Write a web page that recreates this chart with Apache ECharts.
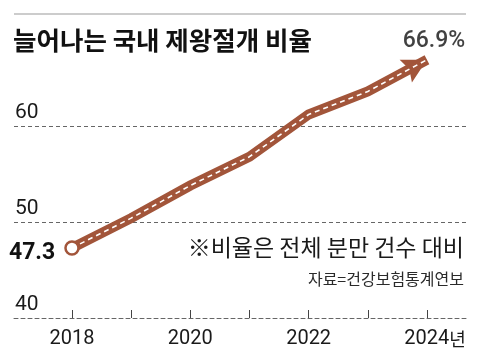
<!DOCTYPE html>
<html><head><meta charset="utf-8">
<script src="https://cdn.jsdelivr.net/npm/echarts@6/dist/echarts.min.js"></script>
<style>html,body{margin:0;padding:0;background:#fff}#c{width:480px;height:361px}</style>
</head><body><div id="c"></div>
<script>
const years = [2018, 2019, 2020, 2021, 2022, 2023, 2024];
const rates = [47.3, 50.4, 53.8, 56.8, 61.2, 63.6, 66.9];
const xLabelYears = [2018, 2020, 2022, 2024];
const yTicks = [40, 50, 60];
const titleText = '늘어나는 국내 제왕절개 비율';
const noteText = '※비율은 전체 분만 건수 대비';
const sourceText = '자료=건강보험통계연보';

const BROWN = '#a2553a';
const NUM = "Roboto, sans-serif";
const KR = "'Noto Sans CJK KR', sans-serif";

const pts = years.map((y, i) => [y, rates[i]]);
const n = pts.length;

const chart = echarts.init(document.getElementById('c'), null, {renderer: 'canvas'});
chart.setOption({
  animation: false,
  backgroundColor: '#fff',
  grid: {left: 14, right: 14, top: 30, bottom: 43},
  xAxis: {
    type: 'value', min: 2017.02, max: 2024.66,
    axisLine: {show: true, lineStyle: {color: '#666', type: [4, 3], width: 1}},
    axisTick: {show: true, inside: true, length: 8, customValues: years, lineStyle: {color: '#444'}},
    splitLine: {show: false},
    axisLabel: {
      customValues: xLabelYears, margin: 11,
      formatter: v => v === 2024 ? '{c|2024}{b|년}' : '{a|' + v + '}',
      rich: {
        a: {fontFamily: NUM, fontSize: 20, color: '#1a1a1a'},
        c: {fontFamily: NUM, fontSize: 20, color: '#1a1a1a', padding: [0, 0, 0, 16]},
        b: {fontFamily: KR, fontSize: 18, color: '#1a1a1a'}
      }
    }
  },
  yAxis: {
    type: 'value', min: 40, max: 70, interval: 10,
    axisLine: {show: false}, axisTick: {show: false},
    splitLine: {show: true, lineStyle: {color: ['#666', '#666', '#666', 'rgba(0,0,0,0)'], type: [4, 3], width: 1}},
    axisLabel: {
      inside: true, margin: 1, verticalAlign: 'bottom', padding: [0, 0, 3, 0],
      fontFamily: NUM, fontSize: 21, color: '#1a1a1a',
      formatter: v => yTicks.includes(v) ? String(v) : ''
    }
  },
  graphic: [
    {type: 'line', shape: {x1: 14, y1: 14, x2: 466, y2: 14}, style: {stroke: '#999', lineWidth: 1}},
    {type: 'text', left: 13, top: 28, style: {text: titleText, font: "bold 25.5px 'Noto Sans CJK KR'", fill: '#111'}},
    {type: 'text', right: 16, top: 236, style: {text: noteText, font: "23px 'Noto Sans CJK KR'", fill: '#1a1a1a'}},
    {type: 'text', right: 16, top: 271, style: {text: sourceText, font: "16px 'Noto Sans CJK KR'", fill: '#2a2a2a'}}
  ],
  series: [
    {type: 'line', data: pts, symbol: 'none', z: 2,
     lineStyle: {color: BROWN, width: 10, cap: 'butt', join: 'miter'}},
    {type: 'custom', z: 3, data: [[years[n - 2], rates[n - 2], years[n - 1], rates[n - 1]]],
     renderItem: (params, api) => {
       const a = api.coord([api.value(0), api.value(1)]);
       const b = api.coord([api.value(2), api.value(3)]);
       const dx = b[0] - a[0], dy = b[1] - a[1];
       const len = Math.hypot(dx, dy);
       const ux = dx / len, uy = dy / len, nx = -uy, ny = ux;
       const L = 24, W = 13;
       const bx = b[0] - ux * L, by = b[1] - uy * L;
       return {type: 'polygon', shape: {points: [
         [b[0], b[1]], [bx + nx * W, by + ny * W], [bx + ux * 4, by + uy * 4], [bx - nx * W, by - ny * W]
       ]}, style: {fill: BROWN}};
     }},
    {type: 'line', data: pts, symbol: 'none', z: 4,
     lineStyle: {color: '#fff', width: 1.6, type: [5, 4]}},
    {type: 'scatter', z: 5, data: [pts[0]], symbol: 'circle', symbolSize: 13,
     itemStyle: {color: '#fff', borderColor: BROWN, borderWidth: 2.5, opacity: 1},
     label: {show: true, position: 'left', distance: 9, offset: [0, 5],
       formatter: p => String(p.value[1]),
       fontFamily: NUM, fontWeight: 'bold', fontSize: 23, color: '#111'}},
    {type: 'scatter', z: 5, data: [pts[n - 1]], symbolSize: 0,
     label: {show: true, position: 'top', distance: 7, offset: [7, 0],
       formatter: p => p.value[1] + '%',
       fontFamily: NUM, fontWeight: 500, fontSize: 23, color: '#111'}}
  ]
});
</script></body></html>
